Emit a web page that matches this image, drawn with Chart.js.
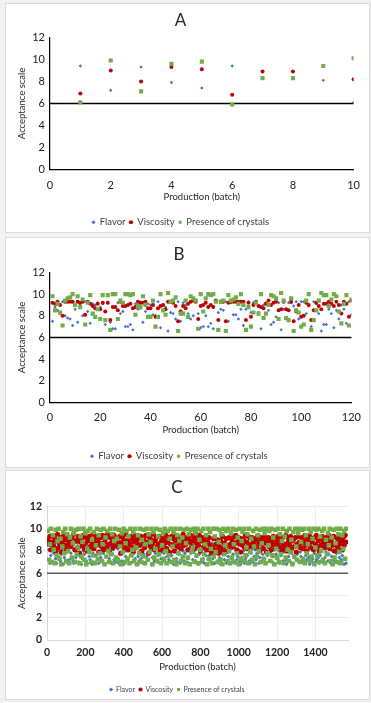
<!DOCTYPE html>
<html lang="en">
<head>
  <meta charset="UTF-8" />
  <title>Acceptance scale per production batch</title>
  <style>
    body {
      margin: 0;
      background: #f2f2f2;
      font-family: Lato, "Open Sans", sans-serif;
    }
    .panel {
      position: absolute;
      left: 5px;
      width: 363px;
      background: #fff;
      border: 1px solid #d9d9d9;
    }
    #panelA { top: 3px; height: 228px; }
    #panelB { top: 237px; height: 229px; }
    #panelC { top: 470px; height: 228px; }
    .panel canvas { display: block; }
  </style>
  <script src="https://cdn.jsdelivr.net/npm/chart.js"></script>
</head>
<body>

<div class="panel" id="panelA"><canvas id="chartA" width="363" height="228"></canvas></div>
<div class="panel" id="panelB"><canvas id="chartB" width="363" height="229"></canvas></div>
<div class="panel" id="panelC"><canvas id="chartC" width="363" height="228"></canvas></div>

<script>
  // ---- data ----
  const SERIES_NAMES = ['Flavor', 'Viscosity', 'Presence of crystals'];
  const LIMIT = 6;
  const Y_TICKS = [0, 2, 4, 6, 8, 10, 12];

  // A : 10 batches
  const X_TICKS_A = [0, 2, 4, 6, 8, 10];
  const BATCH_A = [1, 2, 3, 4, 5, 6, 7, 8, 9, 10];
  const FLAVOR_A = [9.4, 7.2, 9.3, 7.9, 7.4, 9.4, null, null, 8.1, 6.1];
  const VISCOSITY_A = [6.9, 9.0, 8.0, 9.3, 9.1, 6.8, 8.9, 8.9, null, 8.2];
  const CRYSTALS_A = [6.1, 9.9, 7.1, 9.6, 9.8, 5.9, 8.3, 8.3, 9.4, 10.1];

  // B : 120 batches (batch n = index + 1)
  const X_TICKS_B = [0, 20, 40, 60, 80, 100, 120];
  const FLAVOR_B = [
    7.5, 8.8, 8.5, 8.2, 9.3, 8.0, 7.8, 7.7, 7.1, 8.6, 7.4, 9.1, 8.0, 9.3, 8.4, 7.3, 9.1, 9.0, 9.2, 8.8,
    9.1, 7.2, 9.2, 7.4, 6.8, 6.8, 9.2, 8.2, 8.4, 7.0, 7.0, 7.2, 6.7, 9.1, 8.6, 8.7, 7.4, 8.4, 9.1, 9.0,
    8.1, 8.0, 9.3, 6.9, 9.0, 8.8, 6.6, 8.3, 8.2, 7.7, 9.3, 7.5, 9.2, 9.0, 8.2, 7.7, 8.0, 9.4, 8.2, 6.9,
    7.0, 8.0, 7.0, 7.3, 6.8, 9.4, 8.3, 8.6, 8.5, 9.3, 7.5, 9.2, 8.1, 8.1, 7.7, 8.6, 7.1, 8.6, 9.3, 8.3,
    9.2, 9.2, 8.3, 6.8, 9.0, 9.2, 8.5, 7.2, 7.4, 7.9, 9.2, 6.7, 8.6, 7.7, 9.2, 9.2, 8.9, 9.3, 7.7, 9.3,
    9.3, 8.2, 8.9, 7.0, 9.3, 9.1, 8.2, 6.6, 7.2, 7.2, 8.6, 8.2, 6.9, 8.5, 7.7, 9.0, 8.6, 7.3, 9.3, 8.1
  ];
  const VISCOSITY_B = [
    9.2, 9.1, 9.3, 9.0, 8.0, 9.3, 9.3, 9.3, 9.3, 9.0, 9.3, 9.2, 9.3, 8.1, 9.3, 9.1, 8.9, 8.7, 9.1, 8.6,
    9.2, 8.4, 9.2, 7.6, 8.8, 8.8, 8.5, 9.3, 8.9, 8.9, 9.0, 9.1, 8.7, 8.8, 9.3, 9.2, 9.2, 9.3, 8.7, 8.7,
    9.0, 7.9, 8.7, 8.9, 9.0, 8.6, 9.3, 9.3, 9.2, 8.9, 7.5, 8.4, 8.9, 8.7, 9.1, 9.3, 9.4, 9.3, 7.7, 8.9,
    9.0, 9.2, 8.8, 9.0, 8.8, 9.4, 7.6, 9.3, 9.3, 7.5, 9.2, 9.3, 9.3, 9.3, 9.3, 9.3, 9.3, 7.6, 9.2, 7.9,
    9.0, 9.3, 8.9, 8.8, 8.7, 9.1, 9.4, 9.0, 9.2, 9.3, 8.5, 8.6, 9.3, 8.6, 8.5, 9.3, 7.5, 8.4, 9.0, 7.9,
    8.0, 9.2, 9.0, 7.6, 8.5, 9.2, 8.9, 8.6, 9.1, 9.1, 9.3, 9.1, 8.9, 9.3, 9.0, 8.2, 9.3, 9.1, 7.9, 9.4
  ];
  const CRYSTALS_B = [
    9.8, 8.5, 9.1, 8.3, 7.1, 9.4, 9.6, 9.7, 10.0, 9.0, 9.8, 8.8, 9.5, 7.2, 9.2, 9.9, 8.2, 7.9, 8.6, 7.7,
    9.9, 7.6, 9.9, 6.7, 10.0, 10.0, 7.7, 9.4, 9.2, 10.0, 10.0, 9.9, 10.0, 8.1, 8.9, 8.8, 9.8, 9.0, 7.9, 7.9,
    9.4, 7.0, 7.9, 10.0, 8.5, 8.1, 10.1, 9.3, 9.4, 9.7, 6.6, 8.2, 8.2, 9.4, 7.9, 9.8, 9.6, 9.4, 6.8, 10.0,
    8.4, 9.6, 10.0, 9.9, 10.0, 9.3, 6.7, 9.3, 9.4, 6.6, 9.9, 9.4, 9.5, 9.7, 9.1, 10.0, 9.0, 6.7, 8.8, 7.0,
    8.3, 9.2, 8.2, 10.0, 7.8, 8.2, 9.0, 9.9, 9.8, 9.6, 7.7, 10.1, 9.4, 7.8, 7.6, 9.6, 6.6, 8.5, 8.3, 7.0,
    7.2, 9.4, 10.0, 6.7, 7.6, 8.5, 9.4, 10.1, 9.9, 9.9, 8.9, 9.5, 10.0, 9.8, 8.4, 7.3, 9.1, 9.9, 7.1, 9.5
  ];

  // C : about 1560 batches, one value kept every C_STEP batches
  const X_TICKS_C = [0, 200, 400, 600, 800, 1000, 1200, 1400];
  const C_STEP = 5;
  const FLAVOR_C = [
    7.2, 8.1, 6.9, 7.6, 8.4, 7.0, 7.8, 8.6, 7.3, 6.9, 8.0, 7.5, 8.8, 7.1, 7.7, 8.2, 6.8, 7.4, 8.5, 7.0, 7.9, 8.3, 7.2, 6.9,
    7.8, 8.5, 7.1, 6.9, 8.2, 7.4, 7.9, 8.7, 7.0, 7.6, 8.3, 6.8, 7.3, 8.0, 7.7, 8.6, 7.1, 6.9, 8.4, 7.5, 7.2, 8.1, 6.8, 7.8,
    8.3, 7.0, 7.6, 8.8, 7.2, 6.9, 8.0, 7.4, 8.5, 7.1, 7.8, 6.8, 8.2, 7.5, 8.7, 7.0, 7.3, 8.4, 6.9, 7.7, 8.1, 7.2, 8.6, 7.0,
    7.4, 8.2, 6.9, 7.7, 8.5, 7.1, 7.9, 6.8, 8.3, 7.5, 8.0, 7.2, 8.7, 6.9, 7.6, 8.4, 7.0, 7.8, 8.1, 7.3, 6.8, 8.6, 7.5, 7.1,
    8.0, 7.3, 8.6, 7.0, 7.7, 8.3, 6.9, 7.5, 8.8, 7.2, 7.9, 8.1, 6.8, 7.4, 8.5, 7.1, 7.8, 8.2, 7.0, 7.6, 8.4, 6.9, 7.3, 8.0,
    7.1, 7.8, 8.4, 6.9, 7.5, 8.1, 7.2, 8.7, 7.0, 7.6, 8.3, 6.8, 7.9, 8.5, 7.3, 7.0, 8.2, 7.7, 6.9, 8.6, 7.4, 8.0, 7.1, 7.8,
    8.5, 7.0, 7.4, 8.2, 6.9, 7.8, 8.6, 7.2, 7.9, 8.8, 7.1, 7.5, 8.3, 6.8, 7.7, 8.1, 7.0, 8.4, 7.3, 6.9, 8.0, 7.6, 8.7, 7.2,
    7.6, 8.3, 7.0, 8.7, 7.3, 8.1, 6.9, 7.8, 8.5, 7.1, 8.2, 7.4, 6.8, 8.0, 7.7, 8.6, 7.2, 7.9, 6.9, 8.4, 7.5, 7.0, 8.2, 7.3,
    7.0, 7.7, 8.3, 6.9, 8.6, 7.2, 7.5, 8.1, 7.0, 6.8, 7.4, 7.1, 8.0, 6.9, 7.3, 7.0, 7.6, 8.4, 7.1, 6.9, 7.8, 8.2, 7.0, 7.5,
    8.1, 7.2, 7.8, 8.5, 6.9, 7.4, 8.2, 7.0, 7.7, 8.8, 7.3, 6.9, 8.0, 7.6, 8.3, 7.1, 7.9, 8.6, 7.0, 7.5, 8.1, 6.8, 7.7, 8.4,
    7.3, 8.0, 6.9, 7.6, 8.4, 7.1, 7.9, 8.7, 7.2, 6.8, 8.2, 7.5, 8.5, 7.0, 7.8, 8.1, 6.9, 7.4, 8.6, 7.2, 7.7, 8.3, 7.0, 7.9,
    7.5, 7.0, 7.3, 7.1, 6.9, 7.6, 7.2, 8.0, 7.4, 6.8, 7.5, 7.1, 7.3, 6.9, 7.8, 7.0, 7.2, 8.2, 7.4, 6.9, 7.6, 7.1, 8.4, 7.0,
    8.2, 7.4, 7.9, 8.6, 7.1, 7.7, 8.3, 6.9, 7.5, 8.0, 7.2, 8.5, 7.0, 7.8, 8.1, 6.9, 7.4, 8.7, 7.2, 7.6, 8.0, 6.8, 7.3, 6.9
  ];
  const VISCOSITY_C = [
    9.0, 8.6, 9.3, 8.1, 8.8, 9.4, 8.4, 9.1, 8.0, 8.9, 9.5, 8.3, 8.7, 9.2, 7.9, 8.8, 9.3, 8.5, 9.0, 8.2, 9.4, 8.6, 8.9, 9.1,
    8.4, 9.2, 8.7, 9.5, 8.1, 8.9, 9.0, 8.3, 9.3, 7.8, 8.8, 9.1, 8.5, 9.4, 8.2, 8.7, 9.2, 8.0, 8.9, 9.3, 8.4, 9.0, 8.6, 9.5,
    8.2, 8.9, 9.3, 8.5, 9.0, 7.9, 8.7, 9.2, 8.4, 9.4, 8.1, 8.8, 9.1, 8.3, 9.5, 8.6, 8.0, 9.2, 8.7, 9.0, 8.3, 9.4, 8.5, 8.9,
    9.1, 8.4, 8.8, 9.3, 7.8, 8.6, 9.2, 8.9, 8.2, 9.5, 8.5, 9.0, 8.1, 8.7, 9.3, 8.4, 9.1, 7.9, 8.8, 9.4, 8.3, 9.0, 8.6, 9.2,
    8.5, 9.3, 8.0, 8.9, 9.1, 8.3, 9.4, 8.6, 8.8, 7.8, 9.2, 8.4, 9.0, 8.7, 9.5, 8.1, 8.9, 9.2, 8.4, 8.6, 9.3, 8.0, 8.8, 9.1,
    8.3, 9.0, 8.7, 9.4, 8.2, 8.8, 9.2, 7.9, 8.6, 9.3, 8.5, 9.1, 8.0, 8.9, 9.4, 8.4, 9.0, 8.7, 9.2, 8.2, 8.8, 9.5, 8.5, 9.0,
    8.6, 9.2, 8.1, 9.0, 8.8, 9.4, 8.4, 8.9, 9.3, 8.2, 9.6, 8.7, 9.1, 8.5, 9.4, 8.0, 8.9, 9.2, 8.3, 9.0, 8.6, 9.3, 8.1, 8.8,
    9.2, 8.5, 8.0, 7.8, 8.3, 9.1, 7.9, 8.6, 8.1, 9.0, 7.8, 8.4, 8.9, 8.0, 9.3, 8.2, 8.7, 7.9, 9.1, 8.5, 8.0, 9.2, 8.6, 8.3,
    9.0, 8.4, 9.3, 8.7, 9.4, 8.1, 8.9, 9.2, 8.6, 7.9, 9.1, 8.5, 9.0, 8.3, 9.4, 8.8, 8.2, 9.3, 8.6, 9.1, 8.4, 9.2, 8.7, 8.9,
    8.5, 9.1, 8.3, 9.4, 8.8, 8.0, 9.2, 8.6, 9.0, 8.2, 9.3, 8.7, 7.9, 8.9, 9.2, 8.4, 9.0, 8.1, 8.8, 9.3, 8.5, 8.2, 9.1, 8.7,
    9.3, 8.4, 8.8, 9.0, 8.1, 9.2, 8.6, 8.3, 9.4, 8.0, 8.7, 9.1, 8.5, 9.3, 8.2, 8.9, 9.0, 8.4, 9.2, 7.9, 8.6, 9.3, 8.8, 8.3,
    8.7, 9.2, 8.2, 8.9, 9.4, 8.5, 8.0, 9.1, 8.7, 9.3, 8.3, 8.8, 9.0, 8.1, 9.2, 8.6, 9.4, 8.4, 8.9, 8.0, 9.1, 8.5, 9.3, 8.7,
    9.0, 8.3, 9.2, 8.6, 8.9, 9.4, 8.2, 8.8, 9.1, 8.5, 9.3, 8.0, 8.7, 9.2, 8.4, 9.0, 8.6, 9.3, 8.1, 8.9, 9.2, 8.5, 9.4, 8.8
  ];
  const CRYSTALS_C = [
    9.8, 7.2, 8.6, 10.0, 7.0, 9.4, 8.1, 6.9, 9.9, 7.6, 8.9, 10.0, 7.3, 9.1, 6.8, 8.4, 9.7, 7.8, 10.0, 7.1, 9.5, 8.0, 6.9, 9.2,
    10.0, 7.4, 8.7, 9.6, 7.0, 9.9, 7.7, 8.3, 10.0, 6.9, 9.3, 7.5, 8.8, 10.0, 7.2, 9.6, 6.8, 8.2, 9.8, 7.9, 10.0, 7.0, 9.0, 7.6,
    9.7, 6.9, 8.5, 10.0, 7.3, 9.4, 7.8, 9.9, 7.1, 8.6, 10.0, 6.8, 9.2, 7.5, 9.8, 8.0, 7.0, 10.0, 7.7, 9.5, 6.9, 8.9, 10.0, 7.4,
    9.1, 7.2, 9.9, 8.4, 6.8, 9.6, 7.9, 10.0, 7.0, 8.7, 9.8, 7.3, 9.3, 6.9, 10.0, 7.6, 8.1, 9.7, 7.1, 10.0, 8.3, 6.8, 9.4, 7.8,
    10.0, 7.0, 9.0, 7.5, 9.9, 6.9, 8.6, 10.0, 7.2, 9.5, 7.9, 8.8, 10.0, 6.8, 9.7, 7.4, 8.2, 10.0, 7.1, 9.3, 7.7, 9.9, 6.9, 8.5,
    9.6, 7.3, 10.0, 8.0, 6.9, 9.8, 7.6, 9.1, 10.0, 7.0, 8.4, 9.7, 7.2, 10.0, 6.8, 9.4, 7.8, 8.9, 10.0, 7.1, 9.2, 7.5, 9.9, 6.9,
    8.7, 10.0, 7.4, 9.5, 6.8, 9.9, 7.9, 8.3, 10.0, 7.0, 9.6, 7.6, 10.0, 6.9, 9.0, 8.1, 9.8, 7.2, 10.0, 7.7, 8.6, 9.4, 6.8, 10.0,
    7.3, 9.7, 8.2, 6.9, 10.0, 7.5, 9.3, 7.9, 10.0, 7.0, 8.8, 9.9, 7.2, 9.5, 6.8, 10.0, 7.7, 8.5, 9.8, 7.1, 10.0, 8.0, 6.9, 9.6,
    7.4, 10.0, 8.6, 7.0, 9.9, 7.8, 9.2, 6.8, 10.0, 7.3, 8.9, 9.7, 7.1, 10.0, 7.6, 8.3, 9.5, 6.9, 10.0, 7.9, 9.1, 7.2, 9.8, 8.4,
    6.8, 10.0, 7.5, 9.4, 8.0, 9.9, 7.0, 8.7, 10.0, 7.3, 9.6, 6.9, 10.0, 7.8, 8.5, 9.8, 7.1, 10.0, 7.6, 9.2, 6.8, 9.9, 8.2, 7.4,
    10.0, 7.0, 9.5, 7.7, 8.9, 10.0, 6.9, 9.3, 7.4, 9.8, 8.1, 7.1, 10.0, 7.9, 9.0, 6.8, 9.7, 7.5, 10.0, 8.4, 7.2, 9.6, 10.0, 7.0,
    8.8, 9.9, 7.3, 10.0, 6.9, 9.4, 7.8, 8.6, 10.0, 7.1, 9.7, 7.5, 9.1, 10.0, 6.8, 8.3, 9.9, 7.6, 10.0, 7.0, 9.3, 8.0, 9.8, 7.2,
    10.0, 6.9, 9.0, 7.7, 9.6, 8.5, 10.0, 7.1, 9.2, 6.8, 9.9, 7.4, 8.7, 10.0, 7.0, 9.5, 7.9, 10.0, 6.9, 9.4, 8.2, 9.8, 7.3, 10.0
  ];

  const COLORS = ['#4472c4', '#c00000', '#70ad47'];

  // ---- helpers ----
  const limitLine = {
    id: 'limitLine',
    beforeDatasetsDraw(chart, args, opts) {
      const { ctx, chartArea, scales } = chart;
      const y = scales.y.getPixelForValue(LIMIT);
      ctx.save();
      ctx.strokeStyle = opts.color;
      ctx.lineWidth = opts.width;
      ctx.beginPath();
      ctx.moveTo(chartArea.left, y);
      ctx.lineTo(chartArea.right, y);
      ctx.stroke();
      ctx.restore();
    }
  };

  function points(values, xOf) {
    const out = [];
    values.forEach((v, i) => { if (v !== null) out.push({ x: xOf(i), y: v }); });
    return out;
  }

  function makeChart(id, c) {
    const styles = ['rectRot', 'circle', 'rect'];
    const datasets = c.series.map((values, k) => ({
      label: SERIES_NAMES[k],
      data: points(values, c.xOf),
      backgroundColor: COLORS[k],
      borderWidth: 0,
      pointStyle: styles[k],
      pointRadius: c.radius[k],
      order: c.order[k]
    }));

    const tickFont = { family: 'Lato', size: c.tickSize, weight: c.tickWeight };
    return new Chart(document.getElementById(id), {
      type: 'scatter',
      data: { datasets },
      options: {
        responsive: false,
        animation: false,
        devicePixelRatio: 1,
        layout: { padding: { left: 0, right: c.padRight, top: 0, bottom: c.padBottom } },
        plugins: {
          title: {
            display: true,
            text: c.title,
            color: '#262626',
            font: { family: 'Lato', size: 17, weight: 'normal' },
            padding: { top: 6, bottom: c.titleGap }
          },
          legend: {
            position: 'bottom',
            labels: {
              usePointStyle: true,
              boxWidth: c.legendBox,
              boxHeight: c.legendBox,
              padding: c.legendPad,
              color: '#404040',
              font: { family: 'Lato', size: c.legendSize },
              sort: (a, b) => a.datasetIndex - b.datasetIndex
            }
          },
          tooltip: { enabled: false },
          limitLine: { color: c.limitColor, width: 1.5 }
        },
        scales: {
          x: {
            type: 'linear',
            min: 0,
            max: c.xMax,
            afterFit: s => { s.height = c.xHeight; },
            afterBuildTicks: s => { s.ticks = c.xTicks.map(v => ({ value: v })); },
            grid: { display: c.grid, color: '#ececec', drawTicks: false },
            border: { color: c.axisColor, width: c.axisWidth },
            ticks: {
              padding: c.xTickPad, color: '#222', font: tickFont,
              autoSkip: false, maxRotation: 0,
              callback: v => String(v)
            },
            title: {
              display: true,
              text: 'Production (batch)',
              color: '#262626',
              font: { family: 'Lato', size: 9.5 },
              padding: c.xTitlePad
            }
          },
          y: {
            min: 0,
            max: Y_TICKS[Y_TICKS.length - 1],
            afterFit: s => { s.width = c.yWidth; },
            afterBuildTicks: s => { s.ticks = Y_TICKS.map(v => ({ value: v })); },
            grid: { display: c.grid, color: '#ececec', drawTicks: false },
            border: { color: c.axisColor, width: c.axisWidth },
            ticks: { padding: 5, color: '#222', font: tickFont },
            title: {
              display: true,
              text: 'Acceptance scale',
              color: '#262626',
              font: { family: 'Lato', size: 9.5 },
              padding: 10
            }
          }
        }
      },
      plugins: [limitLine]
    });
  }

  makeChart('chartA', {
    title: 'A',
    series: [FLAVOR_A, VISCOSITY_A, CRYSTALS_A],
    xOf: i => BATCH_A[i],
    xMax: 10, xTicks: X_TICKS_A,
    radius: [1.7, 2.0, 2.9],
    order: [2, 1, 0],
    grid: false, axisColor: '#000', axisWidth: 1.2, limitColor: '#000',
    tickSize: 11, tickWeight: 'normal',
    legendSize: 9.5, legendBox: 3, legendPad: 4,
    titleGap: 7, xHeight: 44, xTickPad: 9, xTitlePad: 11, yWidth: 44,
    padRight: 14, padBottom: -5
  });

  makeChart('chartB', {
    title: 'B',
    series: [FLAVOR_B, VISCOSITY_B, CRYSTALS_B],
    xOf: i => i + 1,
    xMax: 120, xTicks: X_TICKS_B,
    radius: [1.7, 2.0, 2.9],
    order: [2, 1, 0],
    grid: false, axisColor: '#000', axisWidth: 1.2, limitColor: '#000',
    tickSize: 11, tickWeight: 'normal',
    legendSize: 9.5, legendBox: 3, legendPad: 4,
    titleGap: 8, xHeight: 45, xTickPad: 8, xTitlePad: 12, yWidth: 44,
    padRight: 17, padBottom: -4
  });

  makeChart('chartC', {
    title: 'C',
    series: [FLAVOR_C, VISCOSITY_C, CRYSTALS_C],
    xOf: i => (i + 1) * C_STEP,
    xMax: 1570, xTicks: X_TICKS_C,
    radius: [2.0, 2.6, 3.2],
    order: [2, 1, 0],
    grid: true, axisColor: '#d9d9d9', axisWidth: 1, limitColor: '#595959',
    tickSize: 10.5, tickWeight: 'bold',
    legendSize: 7, legendBox: 3, legendPad: 4,
    titleGap: 9, xHeight: 42, xTickPad: 6, xTitlePad: 9, yWidth: 41,
    padRight: 21, padBottom: -4
  });
</script>

</body>
</html>
